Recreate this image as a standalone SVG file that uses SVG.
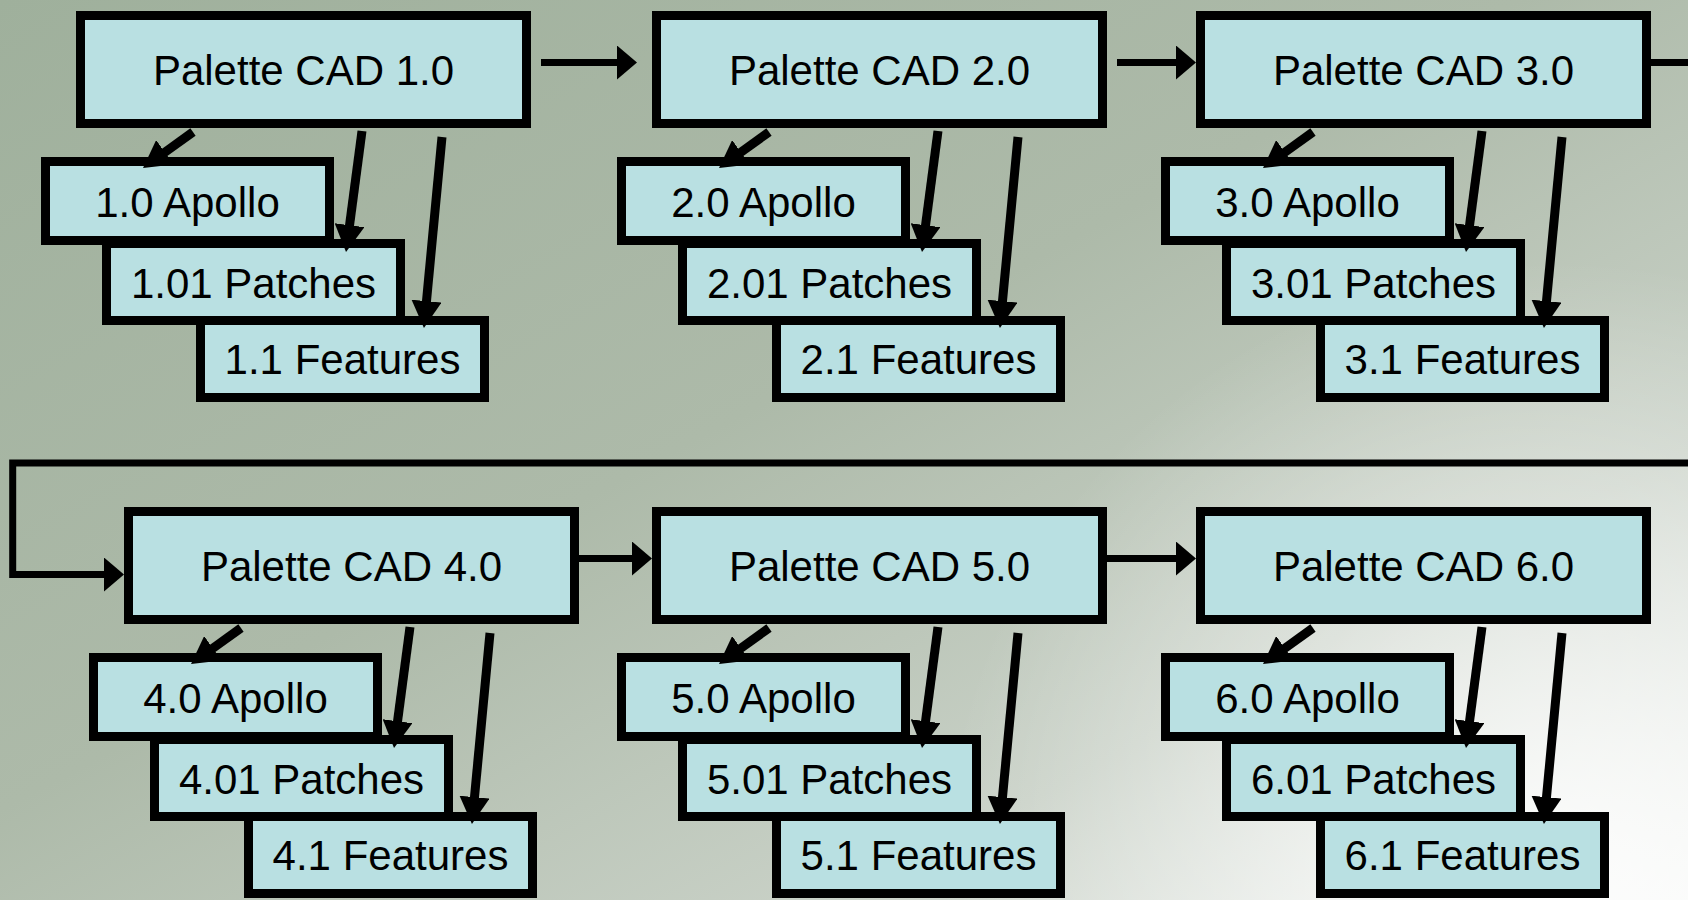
<svg xmlns="http://www.w3.org/2000/svg" width="1688" height="900" viewBox="0 0 1688 900">
<defs>
<linearGradient id="bg" x1="0" y1="0" x2="1" y2="1">
<stop offset="0" stop-color="#9fb09c"/>
<stop offset="0.45" stop-color="#adbaa9"/>
<stop offset="0.75" stop-color="#c9d1c7"/>
<stop offset="1" stop-color="#f3f5f3"/>
</linearGradient>
<radialGradient id="glow" cx="1560" cy="880" r="620" gradientUnits="userSpaceOnUse">
<stop offset="0" stop-color="#ffffff" stop-opacity="0.85"/>
<stop offset="1" stop-color="#ffffff" stop-opacity="0"/>
</radialGradient>
<marker id="headBig" markerUnits="userSpaceOnUse" viewBox="0 0 27 30" markerWidth="27" markerHeight="30" refX="2" refY="15" orient="auto">
<path d="M0,0 L27,15 L0,30 z" fill="#000"/>
</marker>
<marker id="headFlow" markerUnits="userSpaceOnUse" viewBox="0 0 20 34" markerWidth="20" markerHeight="34" refX="2" refY="17" orient="auto">
<path d="M0,0 L20,17 L0,34 z" fill="#000"/>
</marker>
</defs>
<style>
.box{fill:#b9e0e2;stroke:#000;stroke-width:9}
.lbl{font-family:"Liberation Sans",Arial,sans-serif;font-size:42px;fill:#000;text-anchor:middle}
.sub{fill:none;stroke:#000;stroke-width:9;marker-end:url(#headBig)}
.flow{fill:none;stroke:#000;stroke-width:7;stroke-linejoin:miter;marker-end:url(#headFlow)}
.flowplain{fill:none;stroke:#000;stroke-width:7}
</style>
<rect x="0" y="0" width="1688" height="900" fill="url(#bg)"/>
<rect x="0" y="0" width="1688" height="900" fill="url(#glow)"/>

<!-- Column 1, row 1 -->
<g id="p1"><rect class="box" x="80.5" y="15.5" width="446" height="108"/><text class="lbl" x="303.5" y="85">Palette CAD 1.0</text></g>
<g id="a1"><rect class="box" x="45.5" y="161.5" width="284" height="79"/><text class="lbl" x="187.5" y="216.5">1.0 Apollo</text></g>
<g id="pa1"><rect class="box" x="106.5" y="243.5" width="294" height="77"/><text class="lbl" x="253.5" y="297.5">1.01 Patches</text></g>
<g id="f1"><rect class="box" x="200.5" y="320.5" width="284" height="77"/><text class="lbl" x="342.5" y="374">1.1 Features</text></g>

<!-- Column 2, row 1 (+576) -->
<g id="p2"><rect class="box" x="656.5" y="15.5" width="446" height="108"/><text class="lbl" x="879.5" y="85">Palette CAD 2.0</text></g>
<g id="a2"><rect class="box" x="621.5" y="161.5" width="284" height="79"/><text class="lbl" x="763.5" y="216.5">2.0 Apollo</text></g>
<g id="pa2"><rect class="box" x="682.5" y="243.5" width="294" height="77"/><text class="lbl" x="829.5" y="297.5">2.01 Patches</text></g>
<g id="f2"><rect class="box" x="776.5" y="320.5" width="284" height="77"/><text class="lbl" x="918.5" y="374">2.1 Features</text></g>

<!-- Column 3, row 1 (+1120) -->
<g id="p3"><rect class="box" x="1200.5" y="15.5" width="446" height="108"/><text class="lbl" x="1423.5" y="85">Palette CAD 3.0</text></g>
<g id="a3"><rect class="box" x="1165.5" y="161.5" width="284" height="79"/><text class="lbl" x="1307.5" y="216.5">3.0 Apollo</text></g>
<g id="pa3"><rect class="box" x="1226.5" y="243.5" width="294" height="77"/><text class="lbl" x="1373.5" y="297.5">3.01 Patches</text></g>
<g id="f3"><rect class="box" x="1320.5" y="320.5" width="284" height="77"/><text class="lbl" x="1462.5" y="374">3.1 Features</text></g>

<!-- Column 1, row 2 (+48, +496) -->
<g id="p4"><rect class="box" x="128.5" y="511.5" width="446" height="108"/><text class="lbl" x="351.5" y="581">Palette CAD 4.0</text></g>
<g id="a4"><rect class="box" x="93.5" y="657.5" width="284" height="79"/><text class="lbl" x="235.5" y="712.5">4.0 Apollo</text></g>
<g id="pa4"><rect class="box" x="154.5" y="739.5" width="294" height="77"/><text class="lbl" x="301.5" y="793.5">4.01 Patches</text></g>
<g id="f4"><rect class="box" x="248.5" y="816.5" width="284" height="77"/><text class="lbl" x="390.5" y="870">4.1 Features</text></g>

<!-- Column 2, row 2 (+576, +496) -->
<g id="p5"><rect class="box" x="656.5" y="511.5" width="446" height="108"/><text class="lbl" x="879.5" y="581">Palette CAD 5.0</text></g>
<g id="a5"><rect class="box" x="621.5" y="657.5" width="284" height="79"/><text class="lbl" x="763.5" y="712.5">5.0 Apollo</text></g>
<g id="pa5"><rect class="box" x="682.5" y="739.5" width="294" height="77"/><text class="lbl" x="829.5" y="793.5">5.01 Patches</text></g>
<g id="f5"><rect class="box" x="776.5" y="816.5" width="284" height="77"/><text class="lbl" x="918.5" y="870">5.1 Features</text></g>

<!-- Column 3, row 2 (+1120, +496) -->
<g id="p6"><rect class="box" x="1200.5" y="511.5" width="446" height="108"/><text class="lbl" x="1423.5" y="581">Palette CAD 6.0</text></g>
<g id="a6"><rect class="box" x="1165.5" y="657.5" width="284" height="79"/><text class="lbl" x="1307.5" y="712.5">6.0 Apollo</text></g>
<g id="pa6"><rect class="box" x="1226.5" y="739.5" width="294" height="77"/><text class="lbl" x="1373.5" y="793.5">6.01 Patches</text></g>
<g id="f6"><rect class="box" x="1320.5" y="816.5" width="284" height="77"/><text class="lbl" x="1462.5" y="870">6.1 Features</text></g>

<g id="connectors">
<!-- flow between versions -->
<path class="flow" d="M541,62.5 H619"/>
<path class="flow" d="M1117,62.5 H1178"/>
<path class="flowplain" d="M1651,62.5 H1690"/>
<path class="flow" d="M1690,463 H12.7 V574.5 H106"/>
<path class="flow" d="M579,558.5 H634"/>
<path class="flow" d="M1107,558.5 H1178"/>
<!-- sub-release arrows, column 1 row 1 -->
<path class="sub" d="M193,132 L163.3,153.4"/>
<path class="sub" d="M362,131 L349.3,227.2"/>
<path class="sub" d="M442,137 L426.3,303.1"/>
<!-- column 2 row 1 -->
<path class="sub" d="M769,132 L739.3,153.4"/>
<path class="sub" d="M938,131 L925.3,227.2"/>
<path class="sub" d="M1018,137 L1002.3,303.1"/>
<!-- column 3 row 1 -->
<path class="sub" d="M1313,132 L1283.3,153.4"/>
<path class="sub" d="M1482,131 L1469.3,227.2"/>
<path class="sub" d="M1562,137 L1546.3,303.1"/>
<!-- column 1 row 2 -->
<path class="sub" d="M241,628 L211.3,649.4"/>
<path class="sub" d="M410,627 L397.3,723.2"/>
<path class="sub" d="M490,633 L474.3,799.1"/>
<!-- column 2 row 2 -->
<path class="sub" d="M769,628 L739.3,649.4"/>
<path class="sub" d="M938,627 L925.3,723.2"/>
<path class="sub" d="M1018,633 L1002.3,799.1"/>
<!-- column 3 row 2 -->
<path class="sub" d="M1313,628 L1283.3,649.4"/>
<path class="sub" d="M1482,627 L1469.3,723.2"/>
<path class="sub" d="M1562,633 L1546.3,799.1"/>
</g>
</svg>
